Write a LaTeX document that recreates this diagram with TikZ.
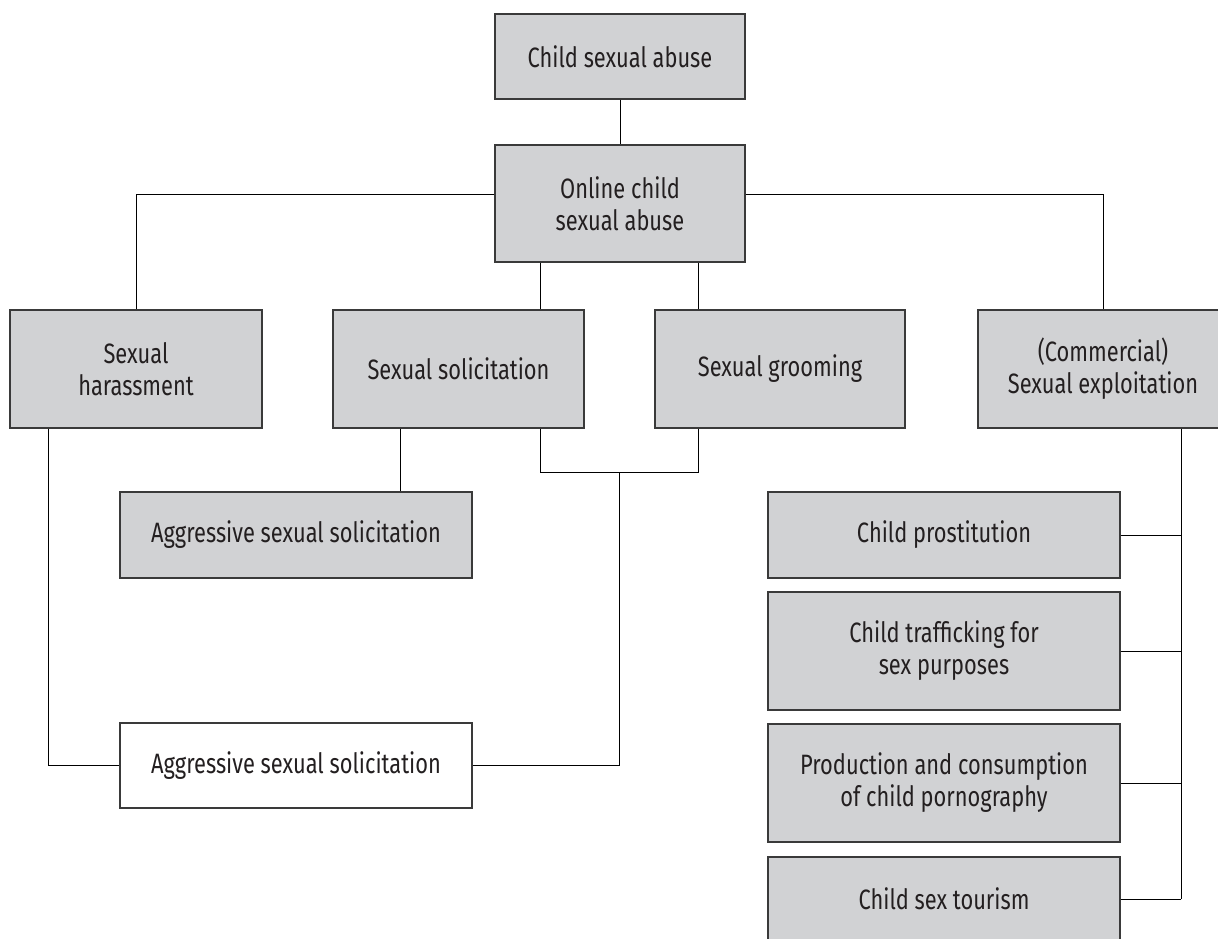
\documentclass[tikz,border=0pt]{standalone}
\usepackage{fontspec}
\setmainfont{Fira Sans}[FakeStretch=0.78]
\definecolor{boxfill}{HTML}{D1D2D4}
\definecolor{boxline}{HTML}{3A3A3A}
\definecolor{txt}{HTML}{231F20}
\begin{document}
\begin{tikzpicture}[x=1pt,y=-1pt,
  box/.style={draw=boxline,line width=1.2pt,fill=boxfill,text=txt,align=center,
    inner sep=0pt,font=\fontsize{28}{32}\selectfont},
  wbox/.style={box,fill=white},
  conn/.style={draw=black,line width=0.9pt}]
\useasboundingbox (0,0) rectangle (1218,939);
% boxes
\node[box,minimum width=250pt,minimum height=85pt] (csa) at (620,56.5) {Child sexual abuse};
\node[box,minimum width=250pt,minimum height=117pt] (ocsa) at (620,203.5) {Online child\\sexual abuse};
\node[box,minimum width=252pt,minimum height=118pt] (har) at (136,369) {Sexual\\harassment};
\node[box,minimum width=251pt,minimum height=118pt] (sol) at (458.5,369) {Sexual solicitation};
\node[box,minimum width=250pt,minimum height=118pt] (gro) at (780,369) {Sexual grooming};
\node[box,minimum width=250pt,minimum height=118pt] (com) at (1103,369) {(Commercial)\\Sexual exploitation};
\node[box,minimum width=352pt,minimum height=86pt] (agg1) at (296,535) {Aggressive sexual solicitation};
\node[wbox,minimum width=352pt,minimum height=85pt] (agg2) at (296,765.5) {Aggressive sexual solicitation};
\node[box,minimum width=352pt,minimum height=86pt] (pro) at (944,535) {Child prostitution};
\node[box,minimum width=352pt,minimum height=118pt] (tra) at (944,651) {Child trafficking for\\sex purposes};
\node[box,minimum width=352pt,minimum height=118pt] (prd) at (944,783) {Production and consumption\\of child pornography};
\node[box,minimum width=352pt,minimum height=84pt] (tou) at (944,899) {Child sex tourism};
% helper coordinates
\coordinate (xl) at (540,0);
\coordinate (xr) at (698,0);
\coordinate (xm) at (619,0);
\coordinate (xs) at (400,0);
\coordinate (xh) at (48,0);
\coordinate (xc) at (1181,0);
\coordinate (yb) at (0,472);
\coordinate (yo) at (0,194);
% connectors
\draw[conn] (csa.south) -- (ocsa.north);
\draw[conn] (ocsa.west |- yo) -| (har.north);
\draw[conn] (ocsa.east |- yo) -| (com.north);
\draw[conn] (ocsa.south -| xl) -- (sol.north -| xl);
\draw[conn] (ocsa.south -| xr) -- (gro.north -| xr);
\draw[conn] (sol.south -| xl) -- (yb -| xl) -- (yb -| xr) -- (gro.south -| xr);
\draw[conn] (yb -| xm) |- (agg2.east);
\draw[conn] (sol.south -| xs) -- (agg1.north -| xs);
\draw[conn] (har.south -| xh) |- (agg2.west);
\draw[conn] (com.south -| xc) -- (tou.east -| xc);
\draw[conn] (pro.east) -- (pro.east -| xc);
\draw[conn] (tra.east) -- (tra.east -| xc);
\draw[conn] (prd.east) -- (prd.east -| xc);
\draw[conn] (tou.east) -- (tou.east -| xc);
\end{tikzpicture}
\end{document}
